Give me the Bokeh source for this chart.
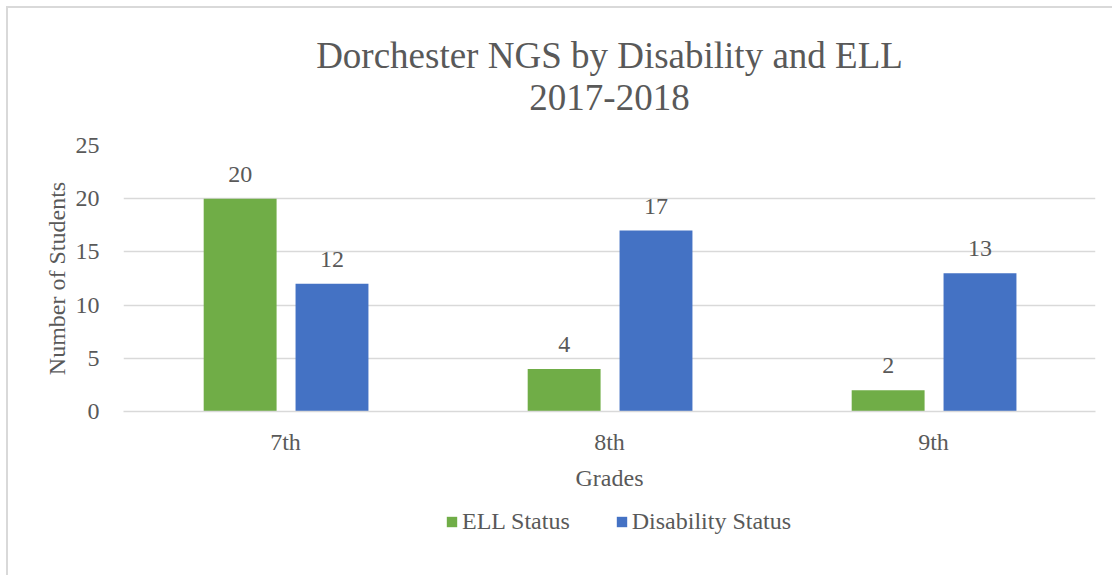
from bokeh.plotting import figure
from bokeh.models import ColumnDataSource, FactorRange, Range1d, Legend, LegendItem, LabelSet, Label
from bokeh.layouts import column
from bokeh.transform import dodge
from bokeh.embed import file_html
from bokeh.resources import INLINE

grades = ["7th", "8th", "9th"]
ell_status = [20, 4, 2]
disability_status = [12, 17, 13]
y_ticks = [0, 5, 10, 15, 20, 25]
title_lines = ["Dorchester NGS by Disability and ELL", "2017-2018"]
series_names = ["ELL Status", "Disability Status"]

FONT = "Liberation Serif"
GRAY = "#595959"
GREEN = "#70AD47"
BLUE = "#4472C4"
W = 1104

# ---- title strip ----
tf = figure(width=W, height=117, x_range=Range1d(0, 1), y_range=Range1d(0, 117),
            output_backend="svg", toolbar_location=None, title=None,
            min_border_left=115, min_border_right=17, min_border_top=0, min_border_bottom=0,
            outline_line_color=None)
tf.axis.visible = False
tf.grid.visible = False
for txt, yy in zip(title_lines, [70, 28]):
    tf.add_layout(Label(x=0.5, y=yy, text=txt, text_align="center", text_baseline="middle",
                        text_font=FONT, text_font_size="37px", text_color=GRAY))

# ---- main chart ----
src = ColumnDataSource(dict(g=grades, ell=ell_status, dis=disability_status,
                            ell_t=[str(v) for v in ell_status],
                            dis_t=[str(v) for v in disability_status]))

p = figure(x_range=FactorRange(*grades), y_range=Range1d(0, 25), title=None,
           width=W, height=373, output_backend="svg", toolbar_location=None,
           min_border_left=115, min_border_right=17, min_border_top=20, min_border_bottom=87)

r1 = p.vbar(x=dodge("g", -0.14, range=p.x_range), top="ell", width=0.225, source=src,
            fill_color=GREEN, line_color=None)
r2 = p.vbar(x=dodge("g", 0.1435, range=p.x_range), top="dis", width=0.225, source=src,
            fill_color=BLUE, line_color=None)

for xo, col in [(-0.14, "ell"), (0.1435, "dis")]:
    p.add_layout(LabelSet(x=dodge("g", xo, range=p.x_range), y=col, text=col + "_t", source=src,
                          y_offset=17, text_align="center", text_font=FONT,
                          text_font_size="24px", text_color=GRAY))

p.outline_line_color = None
p.xgrid.grid_line_color = None
p.ygrid.grid_line_color = "#d9d9d9"
p.ygrid.grid_line_width = 1.5
p.yaxis.ticker = y_ticks

p.yaxis.axis_line_color = None
p.yaxis.major_tick_line_color = None
p.yaxis.minor_tick_line_color = None
p.yaxis.major_label_standoff = 18
p.yaxis.axis_label = "Number of Students"
p.yaxis.axis_label_standoff = 3

p.xaxis.axis_line_color = "#d9d9d9"
p.xaxis.axis_line_width = 1.5
p.xaxis.major_tick_line_color = None
p.xaxis.major_label_standoff = 11
p.xaxis.axis_label = "Grades"
p.xaxis.axis_label_standoff = 7

for ax in (p.xaxis, p.yaxis):
    ax.major_label_text_font = FONT
    ax.major_label_text_font_size = "24px"
    ax.major_label_text_color = GRAY
    ax.axis_label_text_font = FONT
    ax.axis_label_text_font_size = "24px"
    ax.axis_label_text_font_style = "normal"
    ax.axis_label_text_color = GRAY

# ---- legend strip ----
lg = figure(width=W, height=77, x_range=Range1d(0, 1), y_range=Range1d(0, 1),
            output_backend="svg", toolbar_location=None, title=None,
            min_border_left=115, min_border_right=17, min_border_top=0, min_border_bottom=0,
            outline_line_color=None)
lg.axis.visible = False
lg.grid.visible = False
hidden = ColumnDataSource(dict(x=[-5], top=[-5]))
l1 = lg.vbar(x="x", top="top", width=0.1, source=hidden, fill_color=GREEN, line_color=None)
l2 = lg.vbar(x="x", top="top", width=0.1, source=hidden, fill_color=BLUE, line_color=None)
legend = Legend(items=[LegendItem(label=series_names[0], renderers=[l1]),
                       LegendItem(label=series_names[1], renderers=[l2])],
                orientation="horizontal", location=(322, 40),
                glyph_width=13, glyph_height=13, label_standoff=4, spacing=45,
                padding=0, margin=0, border_line_color=None, background_fill_alpha=0,
                label_text_font=FONT, label_text_font_size="24px", label_text_color=GRAY)
lg.add_layout(legend)

layout = column(tf, p, lg, spacing=0)
layout.margin = (8, 0, 0, 8)
layout.styles = {"outline": "2px solid #d9d9d9"}

open("out.html", "w").write(file_html(layout, INLINE))
